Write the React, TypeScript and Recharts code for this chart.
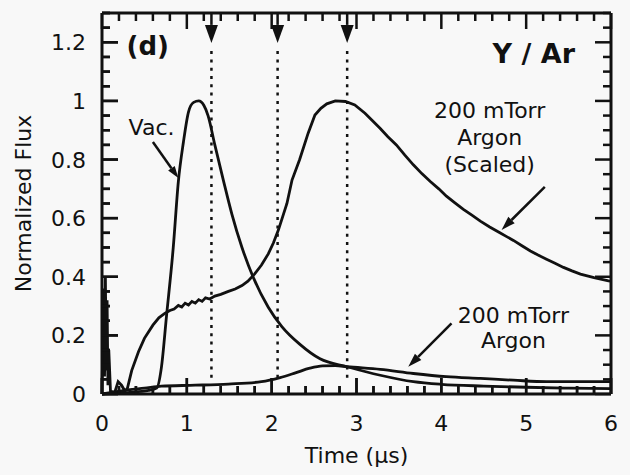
import type { ReactElement } from 'react'
import { Line, LineChart, ReferenceDot, ReferenceLine, XAxis, YAxis } from 'recharts'

// Vacuum (narrow peak)
const vacTime = [0, 0.3, 0.55, 0.645, 0.7, 0.76, 0.84, 0.9, 0.96, 1.02, 1.08, 1.14, 1.2, 1.25, 1.33, 1.43, 1.53, 1.65, 1.78, 1.96, 2.12, 2.33, 2.57, 2.89, 3.28, 3.67, 4.0, 4.5, 5.0, 5.5, 6.0]
const vacFlux = [0, 0.005, 0.012, 0.02, 0.09, 0.265, 0.5, 0.725, 0.86, 0.963, 0.995, 1.0, 0.985, 0.95, 0.85, 0.73, 0.615, 0.5, 0.4, 0.296, 0.23, 0.17, 0.12, 0.093, 0.064, 0.042, 0.033, 0.027, 0.023, 0.02, 0.018]

// 200 mTorr argon (raw)
const arTime = [0, 0.1, 0.31, 0.5, 0.7, 1.1, 1.49, 1.88, 2.1, 2.28, 2.45, 2.6, 2.75, 2.89, 3.28, 3.67, 4.06, 4.46, 4.85, 5.24, 5.6, 6.0]
const arFlux = [0, 0.005, 0.014, 0.02, 0.027, 0.03, 0.034, 0.042, 0.056, 0.072, 0.088, 0.096, 0.097, 0.093, 0.084, 0.07, 0.059, 0.053, 0.047, 0.042, 0.042, 0.042]

// 200 mTorr argon (scaled)
const scaledTime = [0, 0.02, 0.03, 0.04, 0.05, 0.06, 0.07, 0.08, 0.1, 0.15, 0.19, 0.23, 0.27, 0.3, 0.35, 0.43, 0.5, 0.6, 0.67, 0.74, 0.8, 0.85, 0.9, 0.94, 0.98, 1.02, 1.06, 1.1, 1.14, 1.18, 1.22, 1.27, 1.33, 1.4, 1.49, 1.57, 1.65, 1.72, 1.8, 1.88, 1.96, 2.02, 2.08, 2.13, 2.18, 2.24, 2.33, 2.43, 2.51, 2.58, 2.65, 2.75, 2.87, 2.98, 3.1, 3.18, 3.28, 3.37, 3.47, 3.57, 3.67, 3.77, 3.87, 3.97, 4.06, 4.16, 4.26, 4.36, 4.46, 4.57, 4.69, 4.77, 4.85, 4.95, 5.05, 5.14, 5.24, 5.34, 5.44, 5.54, 5.64, 5.8, 5.97, 6.0]
const scaledFlux = [0, 0.36, 0.06, 0.4, 0.08, 0.32, 0.03, 0.15, 0.01, 0.005, 0.042, 0.03, 0.01, 0.02, 0.08, 0.144, 0.19, 0.235, 0.26, 0.275, 0.285, 0.29, 0.302, 0.297, 0.31, 0.304, 0.316, 0.31, 0.322, 0.316, 0.328, 0.324, 0.334, 0.34, 0.35, 0.358, 0.37, 0.385, 0.41, 0.44, 0.478, 0.515, 0.56, 0.605, 0.65, 0.73, 0.8, 0.89, 0.952, 0.975, 0.99, 1.0, 0.998, 0.986, 0.958, 0.935, 0.906, 0.878, 0.85, 0.815, 0.782, 0.752, 0.725, 0.7, 0.675, 0.652, 0.63, 0.61, 0.59, 0.57, 0.55, 0.537, 0.524, 0.506, 0.488, 0.474, 0.46, 0.446, 0.432, 0.42, 0.409, 0.397, 0.386, 0.385]

const xLabels = [0, 1, 2, 3, 4, 5, 6]
const yLabels = [0, 0.2, 0.4, 0.6, 0.8, 1, 1.2]
const xTicks = Array.from({ length: 31 }, (_, i) => Math.round(i * 2) / 10)
const yTicks = Array.from({ length: 27 }, (_, i) => Math.round(i * 5) / 100)

const xTitle = 'Time (μs)'
const yTitle = 'Normalized Flux'
const xTitleAt = 3
const yTitleAt = 0.65

// times marked by the dotted lines and arrows at the top
const markerTimes = [1.29, 2.07, 2.89]

const INK = '#111'
const FONT = '"DejaVu Sans", sans-serif'

const vacData = vacTime.map((t, i) => ({ time: t, flux: vacFlux[i] }))
const arData = arTime.map((t, i) => ({ time: t, flux: arFlux[i] }))
const scaledData = scaledTime.map((t, i) => ({ time: t, flux: scaledFlux[i] }))

const isLabel = (list: number[], v: number) => list.some((l) => Math.abs(l - v) < 1e-6)
const same = (a: number, b: number) => Math.abs(a - b) < 1e-6

// inward tick marks for the top and right edges
const topTick = (props: any) => {
	const x = Number(props.x)
	const y = Number(props.y)
	const len = isLabel(xLabels, props.payload.value) ? 16 : 8
	return <path d={`M${x},${y}L${x},${y + len}`} stroke={INK} strokeWidth={2.5} fill='none' />
}

const rightTick = (props: any) => {
	const x = Number(props.x)
	const y = Number(props.y)
	const len = isLabel(yLabels, props.payload.value) ? 16 : 8
	return <path d={`M${x},${y}L${x - len},${y}`} stroke={INK} strokeWidth={2.5} fill='none' />
}

// bottom edge: inward tick, number, and the axis title under the middle tick
const bottomTick = (props: any) => {
	const x = Number(props.x)
	const y = Number(props.y)
	const v = props.payload.value
	const major = isLabel(xLabels, v)
	return (
		<g>
			<path d={`M${x},${y}L${x},${y - (major ? 16 : 8)}`} stroke={INK} strokeWidth={2.5} fill='none' />
			{major && (
				<text x={x} y={y + 37} textAnchor='middle' fontSize={22} fontFamily={FONT} fill={INK}>
					{String(v)}
				</text>
			)}
			{same(v, xTitleAt) && (
				<text x={x} y={y + 69} textAnchor='middle' fontSize={22} fontFamily={FONT} fill={INK}>
					{xTitle}
				</text>
			)}
		</g>
	)
}

// left edge: inward tick, number, and the rotated axis title beside the middle tick
const leftTick = (props: any) => {
	const x = Number(props.x)
	const y = Number(props.y)
	const v = props.payload.value
	const major = isLabel(yLabels, v)
	const tx = x - 71
	return (
		<g>
			<path d={`M${x},${y}L${x + (major ? 16 : 8)},${y}`} stroke={INK} strokeWidth={2.5} fill='none' />
			{major && (
				<text x={x - 16} y={y + 8} textAnchor='end' fontSize={22} fontFamily={FONT} fill={INK}>
					{String(v)}
				</text>
			)}
			{same(v, yTitleAt) && (
				<text
					x={tx}
					y={y}
					transform={`rotate(-90, ${tx}, ${y})`}
					textAnchor='middle'
					fontSize={22}
					fontFamily={FONT}
					fill={INK}
				>
					{yTitle}
				</text>
			)}
		</g>
	)
}

// a tick drawn at a reference dot (pixel length, pointing into the plot)
const dotTick = (dx: number, dy: number) => (p: any) => (
	<path d={`M${p.cx},${p.cy}L${p.cx + dx},${p.cy + dy}`} stroke={INK} strokeWidth={2.5} fill='none' />
)

const arrowShape = (head: number, width: number) => (p: any) => {
	const { x1, y1, x2, y2 } = p
	const dx = x2 - x1
	const dy = y2 - y1
	const len = Math.hypot(dx, dy) || 1
	const ux = dx / len
	const uy = dy / len
	const bx = x2 - ux * head
	const by = y2 - uy * head
	const nx = (-uy * width) / 2
	const ny = (ux * width) / 2
	return (
		<g>
			<line x1={x1} y1={y1} x2={bx} y2={by} stroke={INK} strokeWidth={2.5} />
			<polygon points={`${x2},${y2} ${bx + nx},${by + ny} ${bx - nx},${by - ny}`} fill={INK} />
		</g>
	)
}

const textShape = (lines: string[], size: number, bold: boolean, gap: number) => (p: any) => (
	<text
		x={p.cx}
		y={p.cy}
		textAnchor='middle'
		fontSize={size}
		fontWeight={bold ? 'bold' : 'normal'}
		fontFamily={FONT}
		fill={INK}
	>
		{lines.map((l, i) => (
			<tspan key={l} x={p.cx} dy={i === 0 ? 0 : gap}>
				{l}
			</tspan>
		))}
	</text>
)

const App = (): ReactElement => (
	<div style={{ position: 'absolute', left: 0, top: 0, background: '#f8f8f8' }}>
		<LineChart width={630} height={475} margin={{ top: 12, right: 18, bottom: 0, left: 0 }}>
			<XAxis
				xAxisId='bottom'
				dataKey='time'
				type='number'
				domain={[0, 6]}
				ticks={xTicks}
				interval={0}
				height={81}
				tickSize={0}
				tickMargin={0}
				tickLine={false}
				tick={bottomTick}
				axisLine={{ stroke: INK, strokeWidth: 3 }}
			/>
			<XAxis
				xAxisId='top'
				dataKey='time'
				orientation='top'
				type='number'
				domain={[0, 6]}
				ticks={xTicks}
				interval={0}
				height={1}
				tickSize={0}
				tickMargin={0}
				tickLine={false}
				tick={topTick}
				axisLine={{ stroke: INK, strokeWidth: 3 }}
			/>
			<YAxis
				yAxisId='left'
				type='number'
				domain={[0, 1.3]}
				ticks={yTicks}
				interval={0}
				width={102}
				tickSize={0}
				tickMargin={0}
				tickLine={false}
				tick={leftTick}
				axisLine={{ stroke: INK, strokeWidth: 3 }}
			/>
			<YAxis
				yAxisId='right'
				orientation='right'
				type='number'
				domain={[0, 1.3]}
				ticks={yTicks}
				interval={0}
				width={1}
				tickSize={0}
				tickMargin={0}
				tickLine={false}
				tick={rightTick}
				axisLine={{ stroke: INK, strokeWidth: 3 }}
			/>

			{xTicks.map((t) => (
				<ReferenceDot
					key={`bd-${t}`}
					xAxisId='bottom'
					yAxisId='left'
					x={t}
					y={0}
					r={0}
					ifOverflow='visible'
					shape={dotTick(0, isLabel(xLabels, t) ? -16 : -8)}
				/>
			))}
			{yTicks.map((v) => (
				<ReferenceDot
					key={`ld-${v}`}
					xAxisId='bottom'
					yAxisId='left'
					x={0}
					y={v}
					r={0}
					ifOverflow='visible'
					shape={dotTick(isLabel(yLabels, v) ? 16 : 8, 0)}
				/>
			))}

			{markerTimes.map((t) => (
				<ReferenceLine
					key={`dot-${t}`}
					xAxisId='bottom'
					yAxisId='left'
					segment={[{ x: t, y: 1.17 }, { x: t, y: 0.04 }]}
					stroke={INK}
					strokeWidth={2.5}
					strokeDasharray='3 5.3'
					ifOverflow='visible'
				/>
			))}
			{markerTimes.map((t) => (
				<ReferenceLine
					key={`arrow-${t}`}
					xAxisId='bottom'
					yAxisId='left'
					segment={[{ x: t, y: 1.3 }, { x: t, y: 1.198 }]}
					ifOverflow='visible'
					shape={arrowShape(18, 13)}
				/>
			))}

			<Line
				data={scaledData}
				dataKey='flux'
				xAxisId='bottom'
				yAxisId='left'
				type='linear'
				dot={false}
				stroke={INK}
				strokeWidth={2.8}
				isAnimationActive={false}
			/>
			<Line
				data={vacData}
				dataKey='flux'
				xAxisId='bottom'
				yAxisId='left'
				type='monotone'
				dot={false}
				stroke={INK}
				strokeWidth={2.8}
				isAnimationActive={false}
			/>
			<Line
				data={arData}
				dataKey='flux'
				xAxisId='top'
				yAxisId='right'
				type='monotone'
				dot={false}
				stroke={INK}
				strokeWidth={2.8}
				isAnimationActive={false}
			/>

			<ReferenceLine
				xAxisId='bottom'
				yAxisId='left'
				segment={[{ x: 0.6, y: 0.86 }, { x: 0.9, y: 0.737 }]}
				ifOverflow='visible'
				shape={arrowShape(12, 8)}
			/>
			<ReferenceLine
				xAxisId='bottom'
				yAxisId='left'
				segment={[{ x: 5.22, y: 0.707 }, { x: 4.71, y: 0.56 }]}
				ifOverflow='visible'
				shape={arrowShape(14, 9)}
			/>
			<ReferenceLine
				xAxisId='bottom'
				yAxisId='left'
				segment={[{ x: 4.12, y: 0.241 }, { x: 3.61, y: 0.093 }]}
				ifOverflow='visible'
				shape={arrowShape(14, 9)}
			/>

			<ReferenceDot xAxisId='bottom' yAxisId='left' x={0.54} y={1.157} r={0} shape={textShape(['(d)'], 26, true, 0)} />
			<ReferenceDot xAxisId='bottom' yAxisId='left' x={5.09} y={1.13} r={0} shape={textShape(['Y / Ar'], 27, true, 0)} />
			<ReferenceDot xAxisId='bottom' yAxisId='left' x={0.584} y={0.884} r={0} shape={textShape(['Vac.'], 22, false, 0)} />
			<ReferenceDot
				xAxisId='bottom'
				yAxisId='left'
				x={4.57}
				y={0.942}
				r={0}
				shape={textShape(['200 mTorr', 'Argon', '(Scaled)'], 22, false, 27)}
			/>
			<ReferenceDot
				xAxisId='bottom'
				yAxisId='left'
				x={4.85}
				y={0.242}
				r={0}
				shape={textShape(['200 mTorr', 'Argon'], 22, false, 25)}
			/>
		</LineChart>
	</div>
)

export default App
